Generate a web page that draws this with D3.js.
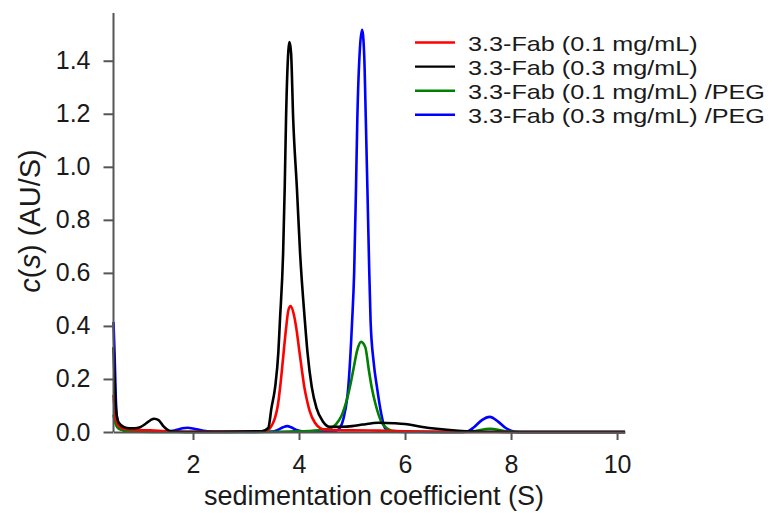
<!DOCTYPE html>
<html>
<head>
<meta charset="utf-8">
<script src="https://cdn.jsdelivr.net/npm/d3@7"></script>
<style>
  html, body { margin: 0; padding: 0; background: #fff; }
  svg { display: block; font-family: "Liberation Sans", Arial, sans-serif; }
</style>
</head>
<body>
<svg id="chart" width="773" height="513"></svg>
<script>
// ---- data (sedimentation coefficient S, c(s) AU/S) ----
const seriesNames = [
  "3.3-Fab (0.1 mg/mL)",
  "3.3-Fab (0.3 mg/mL)",
  "3.3-Fab (0.1 mg/mL) /PEG",
  "3.3-Fab (0.3 mg/mL) /PEG"
];
const seriesColors = ["#ff0000", "#000000", "#008000", "#0000ff"];

const red01 = [
  [0.5,0.14],[0.52,0.09],[0.55,0.045],[0.6,0.022],[0.7,0.012],[0.9,0.008],[1.2,0.006],
  [1.5,0.003],[2.0,0.001],[3.0,0.001],[3.35,0.004],[3.4,0.007],[3.45,0.014],[3.5,0.03],
  [3.55,0.055],[3.6,0.1],[3.65,0.18],[3.7,0.28],[3.75,0.38],[3.8,0.46],[3.84,0.475],
  [3.9,0.445],[3.95,0.39],[4.0,0.315],[4.05,0.24],[4.1,0.17],[4.15,0.12],[4.2,0.08],
  [4.3,0.035],[4.4,0.015],[4.5,0.009],[4.7,0.007],[5.0,0.006],[5.5,0.005],[6.0,0.003],
  [6.6,0.001],[7.0,0],[10.15,0]
];
const black03 = [
  [0.5,0.32],[0.52,0.2],[0.55,0.08],[0.6,0.035],[0.7,0.018],[0.8,0.014],[0.9,0.014],
  [1.0,0.018],[1.1,0.03],[1.2,0.045],[1.27,0.05],[1.35,0.045],[1.45,0.02],[1.55,0.005],
  [1.7,0.001],[2.0,0],[3.3,0.003],[3.42,0.015],[3.48,0.09],[3.55,0.17],[3.61,0.3],
  [3.64,0.42],[3.7,0.675],[3.73,0.92],[3.755,1.18],[3.8,1.44],[3.82,1.47],[3.85,1.43],
  [3.89,1.18],[3.96,0.92],[4.02,0.675],[4.11,0.42],[4.16,0.3],[4.24,0.17],[4.33,0.09],
  [4.45,0.04],[4.58,0.02],[4.8,0.02],[5.0,0.022],[5.2,0.028],[5.5,0.035],[5.8,0.033],
  [6.0,0.03],[6.3,0.02],[6.6,0.012],[7.0,0.005],[7.3,0.002],[7.6,0.001],[8.0,0],[10.15,0]
];
const green01peg = [
  [0.5,0.065],[0.52,0.045],[0.55,0.025],[0.6,0.012],[0.7,0.006],[0.8,0.003],[1.0,0.001],
  [1.5,0],[3.0,0],[3.8,0.002],[4.2,0.004],[4.5,0.01],[4.6,0.015],[4.7,0.03],[4.8,0.06],
  [4.9,0.12],[4.96,0.17],[5.02,0.23],[5.1,0.31],[5.17,0.34],[5.25,0.32],[5.32,0.23],
  [5.37,0.17],[5.45,0.1],[5.55,0.04],[5.65,0.015],[5.75,0.005],[6.0,0.002],[7.0,0],
  [7.3,0.003],[7.6,0.012],[7.9,0.003],[8.2,0],[10.15,0]
];
const blue03peg = [
  [0.5,0.415],[0.52,0.3],[0.54,0.15],[0.56,0.06],[0.6,0.025],[0.65,0.01],[0.75,0.004],
  [1.0,0.002],[1.5,0.002],[1.65,0.006],[1.8,0.014],[1.9,0.016],[2.0,0.013],[2.2,0.005],
  [2.4,0.001],[3.0,0],[3.5,0.002],[3.6,0.008],[3.7,0.018],[3.78,0.022],[3.85,0.018],
  [3.95,0.008],[4.1,0.002],[4.5,0.001],[4.7,0.005],[4.77,0.015],[4.85,0.06],[4.93,0.17],
  [5.0,0.41],[5.04,0.6],[5.075,0.92],[5.1,1.18],[5.15,1.45],[5.19,1.517],[5.23,1.42],
  [5.26,1.18],[5.29,0.92],[5.32,0.65],[5.35,0.42],[5.41,0.26],[5.47,0.17],[5.55,0.07],
  [5.62,0.015],[5.7,0.004],[6.0,0],[7.1,0],[7.2,0.004],[7.3,0.018],[7.45,0.045],
  [7.6,0.057],[7.75,0.04],[7.9,0.015],[8.0,0.005],[8.13,0],[10.15,0]
];
const xTicks = [2, 4, 6, 8, 10];
const yTicks = [0, 0.2, 0.4, 0.6, 0.8, 1.0, 1.2, 1.4];

// ---- layout ----
const svg = d3.select("#chart");
const x = d3.scaleLinear().domain([0.5, 10.15]).range([113.5, 625]);
const y = d3.scaleLinear().domain([0, 1.58]).range([432, 13]);
const axisColor = "#555";

// lines (draw order: blue, green, red, black)
const line = d3.line().x(d => x(d[0])).y(d => y(d[1])).curve(d3.curveMonotoneX);
const seriesData = [red01, black03, green01peg, blue03peg];
const drawOrder = [3, 2, 0, 1];
svg.append("g").selectAll("path")
  .data(drawOrder)
  .join("path")
  .attr("d", i => line(seriesData[i]))
  .attr("fill", "none")
  .attr("stroke", i => seriesColors[i])
  .attr("stroke-width", 2.6)
  .attr("stroke-linejoin", "round");

// axes
const xAxis = svg.append("g")
  .attr("transform", "translate(0,432)")
  .call(d3.axisBottom(x).tickValues(xTicks).tickFormat(d3.format("d"))
    .tickSizeInner(8).tickSizeOuter(0).tickPadding(15));
const yAxis = svg.append("g")
  .attr("transform", "translate(113.5,0)")
  .call(d3.axisLeft(y).tickValues(yTicks).tickFormat(d3.format(".1f"))
    .tickSizeInner(10).tickSizeOuter(0).tickPadding(13));
[xAxis, yAxis].forEach(g => {
  g.select(".domain").attr("stroke", axisColor).attr("stroke-width", 2);
  g.selectAll(".tick line").attr("stroke", axisColor).attr("stroke-width", 2);
  g.selectAll(".tick text").attr("fill", "#1a1a1a")
    .style("font-size", "25px").style("font-family", "'Liberation Sans', Arial, sans-serif");
});
yAxis.select(".domain").attr("d", `M0,${y(1.58)}V${y(0)}`);

// axis titles
svg.append("text")
  .attr("x", 374).attr("y", 505)
  .attr("text-anchor", "middle")
  .attr("fill", "#1a1a1a")
  .style("font-size", "27px")
  .text("sedimentation coefficient (S)");

const yt = svg.append("text")
  .attr("transform", "translate(40,221) rotate(-90)")
  .attr("text-anchor", "middle")
  .attr("fill", "#1a1a1a")
  .style("font-size", "29px");
yt.append("tspan").style("font-style", "italic").text("c");
yt.append("tspan").text("(");
yt.append("tspan").style("font-style", "italic").text("s");
yt.append("tspan").text(") (AU/S)");

// legend
const legendRows = [42.5, 66.6, 90.7, 114.8];
const lg = svg.append("g");
seriesNames.forEach((name, i) => {
  lg.append("line")
    .attr("x1", 415).attr("x2", 455)
    .attr("y1", legendRows[i]).attr("y2", legendRows[i])
    .attr("stroke", seriesColors[i]).attr("stroke-width", 2.4);
  const t = lg.append("text")
    .attr("x", 468).attr("y", legendRows[i] + 8)
    .attr("fill", "#1a1a1a")
    .style("font-size", "21px")
    .text(name);
  const natural = t.node().getComputedTextLength();
  t.attr("textLength", natural * 1.2).attr("lengthAdjust", "spacingAndGlyphs");
});
</script>
</body>
</html>
